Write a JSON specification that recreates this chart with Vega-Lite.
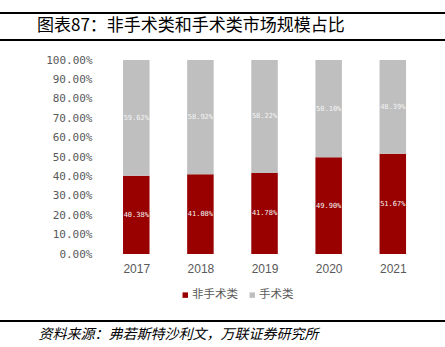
{
  "$schema": "https://vega.github.io/schema/vega-lite/v6.json",
  "width": 445,
  "height": 194,
  "autosize": {"type": "none"},
  "padding": {"top": 60, "left": 0, "right": 0, "bottom": 93},
  "background": "white",
  "config": {"view": {"stroke": null}, "axisY": {"labelOverlap": false}},
  "title": {
    "text": "图表87：非手术类和手术类市场规模占比",
    "anchor": "start",
    "frame": "group",
    "dx": 37,
    "offset": -31,
    "baseline": "middle",
    "font": "Noto Sans CJK SC",
    "fontSize": 17,
    "fontWeight": "normal",
    "color": "#000000"
  },
  "data": {
    "values": [
      {"year": 2017, "type": "非手术类", "share": 0.4038},
      {"year": 2017, "type": "手术类", "share": 0.5962},
      {"year": 2018, "type": "非手术类", "share": 0.4108},
      {"year": 2018, "type": "手术类", "share": 0.5892},
      {"year": 2019, "type": "非手术类", "share": 0.4178},
      {"year": 2019, "type": "手术类", "share": 0.5822},
      {"year": 2020, "type": "非手术类", "share": 0.499},
      {"year": 2020, "type": "手术类", "share": 0.501},
      {"year": 2021, "type": "非手术类", "share": 0.5167},
      {"year": 2021, "type": "手术类", "share": 0.4839}
    ]
  },
  "layer": [
    {
      "mark": {"type": "bar", "size": 26.5},
      "encoding": {
        "x": {
          "field": "year",
          "type": "quantitative",
          "scale": {"domain": [2014.953, 2021.736], "nice": false, "zero": false},
          "axis": {
            "title": "资料来源：弗若斯特沙利文，万联证券研究所",
            "values": [2017, 2018, 2019, 2020, 2021],
            "format": "d",
            "domain": false,
            "ticks": false,
            "tickSize": 0,
            "grid": false,
            "labelFlush": false,
            "labelOverlap": false,
            "labelAngle": 0,
            "labelPadding": 9,
            "labelFont": "Liberation Sans",
            "labelFontSize": 12,
            "labelColor": "#595959",
            "titleFont": "Noto Sans CJK SC",
            "titleFontStyle": "italic",
            "titleFontWeight": "normal",
            "titleFontSize": 14,
            "titleColor": "#000000",
            "titleAnchor": "start",
            "titleAlign": "left",
            "titleAngle": 0,
            "titleBaseline": "middle",
            "titleX": 38,
            "titleY": 80
          }
        },
        "y": {
          "field": "share",
          "type": "quantitative",
          "stack": "zero",
          "scale": {"domain": [0, 1], "nice": false},
          "axis": {"title": null, "values": [0, 0.1, 0.2, 0.3, 0.4, 0.5, 0.6, 0.7, 0.8, 0.9, 1], "format": ".2%", "domain": false, "ticks": false, "tickSize": 0, "grid": false, "labelOverlap": false, "offset": -94, "labelPadding": 2, "labelFont": "DejaVu Sans Mono", "labelFontSize": 11, "labelColor": "#595959"}
        },
        "color": {
          "field": "type",
          "type": "nominal",
          "scale": {"domain": ["非手术类", "手术类"], "range": ["#990000", "#BFBFBF"]},
          "legend": {
            "orient": "none",
            "legendX": 179.5,
            "legendY": 229,
            "direction": "horizontal",
            "title": null,
            "symbolType": "square",
            "symbolSize": 30,
            "symbolStrokeWidth": 0,
            "labelFont": "Noto Sans CJK SC",
            "labelFontSize": 11.5,
            "labelColor": "#595959",
            "labelOffset": 1,
            "columnPadding": 8
          }
        },
        "order": {"field": "type", "sort": "descending"}
      }
    },
    {
      "mark": {"type": "text", "font": "DejaVu Sans Mono", "fontSize": 7, "color": "#f4f4f4", "baseline": "middle"},
      "encoding": {
        "x": {"field": "year", "type": "quantitative"},
        "y": {"field": "share", "type": "quantitative", "stack": "zero", "bandPosition": 0.5,
          "axis": {"title": null, "values": [0, 0.1, 0.2, 0.3, 0.4, 0.5, 0.6, 0.7, 0.8, 0.9, 1], "format": ".2%", "domain": false, "ticks": false, "tickSize": 0, "grid": false, "labelOverlap": false, "offset": -94, "labelPadding": 2, "labelFont": "DejaVu Sans Mono", "labelFontSize": 11, "labelColor": "#595959"}},
        "text": {"field": "share", "type": "quantitative", "format": ".2%"},
        "order": {"field": "type", "sort": "descending"}
      }
    },
    {
      "data": {"values": [{}]},
      "mark": {"type": "rule", "color": "#000000", "strokeWidth": 2},
      "encoding": {"y": {"datum": 1.2423, "type": "quantitative",
        "axis": {"title": null, "values": [0, 0.1, 0.2, 0.3, 0.4, 0.5, 0.6, 0.7, 0.8, 0.9, 1], "format": ".2%", "domain": false, "ticks": false, "tickSize": 0, "grid": false, "labelOverlap": false, "offset": -94, "labelPadding": 2, "labelFont": "DejaVu Sans Mono", "labelFontSize": 11, "labelColor": "#595959"}}}
    },
    {
      "data": {"values": [{}]},
      "mark": {"type": "rule", "color": "#000000", "strokeWidth": 2},
      "encoding": {"y": {"datum": 1.1031, "type": "quantitative",
        "axis": {"title": null, "values": [0, 0.1, 0.2, 0.3, 0.4, 0.5, 0.6, 0.7, 0.8, 0.9, 1], "format": ".2%", "domain": false, "ticks": false, "tickSize": 0, "grid": false, "labelOverlap": false, "offset": -94, "labelPadding": 2, "labelFont": "DejaVu Sans Mono", "labelFontSize": 11, "labelColor": "#595959"}}}
    },
    {
      "data": {"values": [{}]},
      "mark": {"type": "rule", "color": "#000000", "strokeWidth": 2},
      "encoding": {"y": {"datum": -0.3454, "type": "quantitative",
        "axis": {"title": null, "values": [0, 0.1, 0.2, 0.3, 0.4, 0.5, 0.6, 0.7, 0.8, 0.9, 1], "format": ".2%", "domain": false, "ticks": false, "tickSize": 0, "grid": false, "labelOverlap": false, "offset": -94, "labelPadding": 2, "labelFont": "DejaVu Sans Mono", "labelFontSize": 11, "labelColor": "#595959"}}}
    }
  ]
}
